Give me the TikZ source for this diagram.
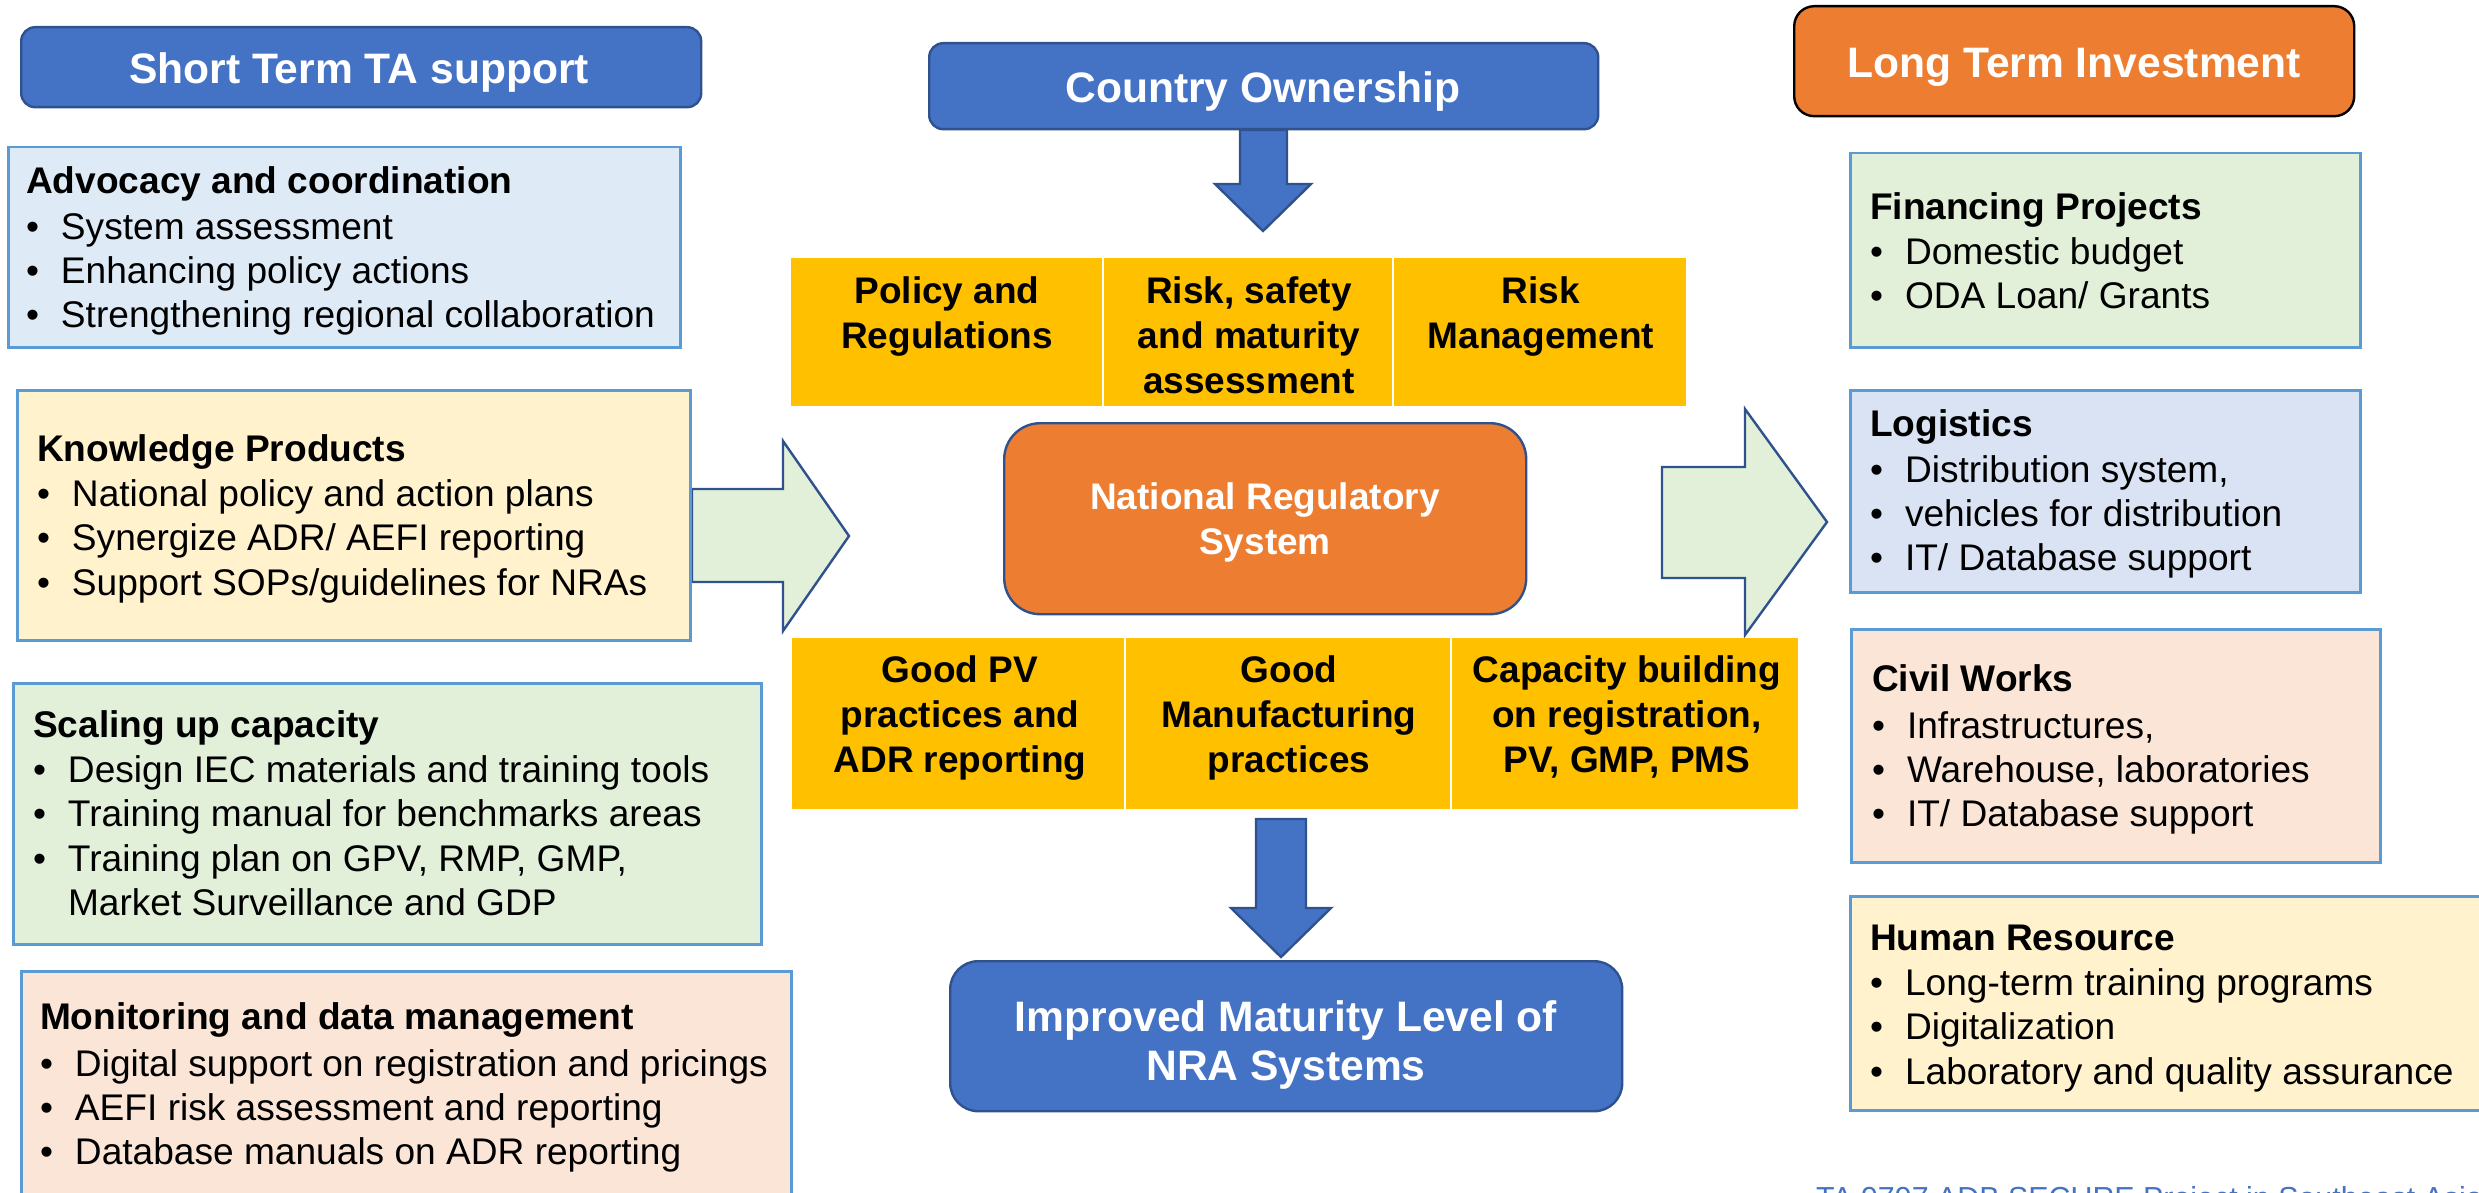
\documentclass[tikz,border=0pt]{standalone}
\usepackage{fontspec}
\setmainfont{Liberation Sans}
\definecolor{cblue}{HTML}{4472C4}
\definecolor{cdkblue}{HTML}{2F528F}
\definecolor{corange}{HTML}{ED7D31}
\definecolor{cyellow}{HTML}{FFC000}
\definecolor{cline}{HTML}{5B9BD5}
\definecolor{fblue}{HTML}{DEEAF6}
\definecolor{fcream}{HTML}{FFF2CC}
\definecolor{fgreen}{HTML}{E2F0D9}
\definecolor{fpeach}{HTML}{FBE5D6}
\definecolor{flav}{HTML}{DAE3F3}
\definecolor{cfoot}{HTML}{4472C4}
\newcommand{\hdline}[1]{\rule{0pt}{30pt}\textbf{#1}}
\newcommand{\itm}[1]{\makebox[35pt][l]{•}#1}
\newcommand{\cont}[1]{\hspace*{35pt}#1}
\newcommand{\ctop}{\rule{0pt}{30pt}}
\newcommand{\ttop}{\rule{0pt}{36pt}}
\tikzset{
  x=1pt,y=-1pt,
  every node/.style={outer sep=0pt},
  bx/.style={draw=cline,line width=2.6pt,rectangle,inner sep=0pt,anchor=north west,xshift=1.2pt,yshift=-1.2pt},
  body/.style={inner sep=0pt,anchor=north west,align=left,text=black,font=\fontsize{37.1}{44.4}\selectfont},
  cell/.style={fill=cyellow,rectangle,inner sep=0pt,anchor=north west},
  celltxt/.style={inner sep=0pt,anchor=north,align=center,text=black,font=\bfseries\fontsize{37}{45.3}\selectfont},
  title/.style={rounded corners=14pt,draw=cdkblue,line width=2.4pt,fill=cblue,rectangle,inner sep=0pt,anchor=north west,xshift=1.2pt,yshift=-1.2pt},
  titletxt/.style={inner sep=0pt,anchor=north,align=center,text=white,font=\bfseries\fontsize{42.6}{49.5}\selectfont},
  blockarrow/.style={draw=cdkblue,line width=2.4pt,line join=miter},
}
\begin{document}
\begin{tikzpicture}
\useasboundingbox (0,0) rectangle (2479,1193);
% block arrows
\draw[blockarrow,fill=fgreen] (692,489)--(783,489)--(783,441)--(849,536)--(783,631)--(783,582)--(692,582)--cycle;
\draw[blockarrow,fill=fgreen] (1662,467)--(1745,467)--(1745,409)--(1827,522)--(1745,635)--(1745,578)--(1662,578)--cycle;
\draw[blockarrow,fill=cblue] (1240,130)--(1287,130)--(1287,184)--(1311,184)--(1263,231)--(1215,184)--(1240,184)--cycle;
\draw[blockarrow,fill=cblue] (1256,819)--(1306,819)--(1306,908)--(1331,908)--(1281,957)--(1231,908)--(1256,908)--cycle;
% header titles
\node[title,minimum width=680pt,minimum height=80pt] (short) at (20,26) {};
\node[titletxt] (shortt) at (359,48) {\ttop Short Term TA support};
\node[title,minimum width=669pt,minimum height=86pt] (country) at (928,42) {};
\node[titletxt] (countryt) at (1263,67) {\ttop Country Ownership};
\node[title,draw=black,fill=corange,rounded corners=20pt,minimum width=560pt,minimum height=110pt] (long) at (1793,5) {};
\node[titletxt] (longt) at (2074,42) {\ttop Long Term Investment};
% left boxes
\node[bx,fill=fblue,minimum width=672pt,minimum height=200pt] (adv) at (7,146) {};
\node[body] (advt) at (26,163) {\hdline{Advocacy and coordination}\\[1.6pt] \itm{System assessment}\\ \itm{Enhancing policy actions}\\ \itm{Strengthening regional collaboration}};
\node[bx,fill=fcream,minimum width=673pt,minimum height=250pt] (know) at (16,389) {};
\node[body] (knowt) at (37,431) {\hdline{Knowledge Products}\\[1pt] \itm{National policy and action plans}\\ \itm{Synergize ADR/ AEFI reporting}\\ \itm{Support SOPs/guidelines for NRAs}};
\node[bx,fill=fgreen,minimum width=748pt,minimum height=261pt] (scale) at (12,682) {};
\node[body] (scalet) at (33,707) {\hdline{Scaling up capacity}\\[1pt] \itm{Design IEC materials and training tools}\\ \itm{Training manual for benchmarks areas}\\ \itm{Training plan on GPV, RMP, GMP,}\\ \cont{Market Surveillance and GDP}};
\node[bx,fill=fpeach,minimum width=770pt,minimum height=240pt] (mon) at (20,970) {};
\node[body] (mont) at (40,999) {\hdline{Monitoring and data management}\\[2.6pt] \itm{Digital support on registration and pricings}\\ \itm{AEFI risk assessment and reporting}\\ \itm{Database manuals on ADR reporting}};
% right boxes
\node[bx,fill=fgreen,minimum width=510pt,minimum height=194pt] (fin) at (1849,152) {};
\node[body] (fint) at (1870,189) {\hdline{Financing Projects}\\[1pt] \itm{Domestic budget}\\ \itm{ODA Loan/ Grants}};
\node[bx,fill=flav,minimum width=510pt,minimum height=202pt] (log) at (1849,389) {};
\node[body] (logt) at (1870,406) {\hdline{Logistics}\\[1.6pt] \itm{Distribution system,}\\ \itm{vehicles for distribution}\\ \itm{IT/ Database support}};
\node[bx,fill=fpeach,minimum width=529pt,minimum height=233pt] (civ) at (1850,628) {};
\node[body] (civt) at (1872,661) {\hdline{Civil Works}\\[2.6pt] \itm{Infrastructures,}\\ \itm{Warehouse, laboratories}\\ \itm{IT/ Database support}};
\node[bx,fill=fcream,minimum width=640pt,minimum height=214pt] (hum) at (1849,895) {};
\node[body] (humt) at (1870,920) {\hdline{Human Resource}\\[1pt] \itm{Long-term training programs}\\ \itm{Digitalization}\\ \itm{Laboratory and quality assurance}};
% top yellow row
\node[cell,minimum width=311pt,minimum height=148pt] (c1) at (791,258) {};
\node[cell,minimum width=288pt,minimum height=148pt] (c2) at (1104,258) {};
\node[cell,minimum width=292pt,minimum height=148pt] (c3) at (1394,258) {};
\node[celltxt] (c1t) at (947,273) {\ctop Policy and\\Regulations};
\node[celltxt] (c2t) at (1249,273) {\ctop Risk, safety\\and maturity\\assessment};
\node[celltxt] (c3t) at (1541,273) {\ctop Risk\\Management};
% centre
\node[title,fill=corange,rounded corners=36pt,minimum width=522pt,minimum height=191pt] (nrs) at (1003,422) {};
\node[celltxt,text=white] (nrst) at (1265,479) {\ctop National Regulatory\\System};
% bottom yellow row
\node[cell,minimum width=332pt,minimum height=171pt] (d1) at (792,638) {};
\node[cell,minimum width=324pt,minimum height=171pt] (d2) at (1126,638) {};
\node[cell,minimum width=346pt,minimum height=171pt] (d3) at (1452,638) {};
\node[celltxt] (d1t) at (960,652) {\ctop Good PV\\practices and\\ADR reporting};
\node[celltxt] (d2t) at (1289,652) {\ctop Good\\Manufacturing\\practices};
\node[celltxt] (d3t) at (1627,652) {\ctop Capacity building\\on registration,\\PV, GMP, PMS};
% outcome
\node[title,rounded corners=28pt,minimum width=672pt,minimum height=150pt] (imp) at (949,960) {};
\node[titletxt] (impt) at (1286,995) {\ttop Improved Maturity Level of\\NRA Systems};
% footer
\node[inner sep=0pt,anchor=base west,text=cfoot,font=\fontsize{30.4}{34}\selectfont] (foot) at (1816,1208) {TA 9797 ADB SECURE Project in Southeast Asia};
\end{tikzpicture}
\end{document}
